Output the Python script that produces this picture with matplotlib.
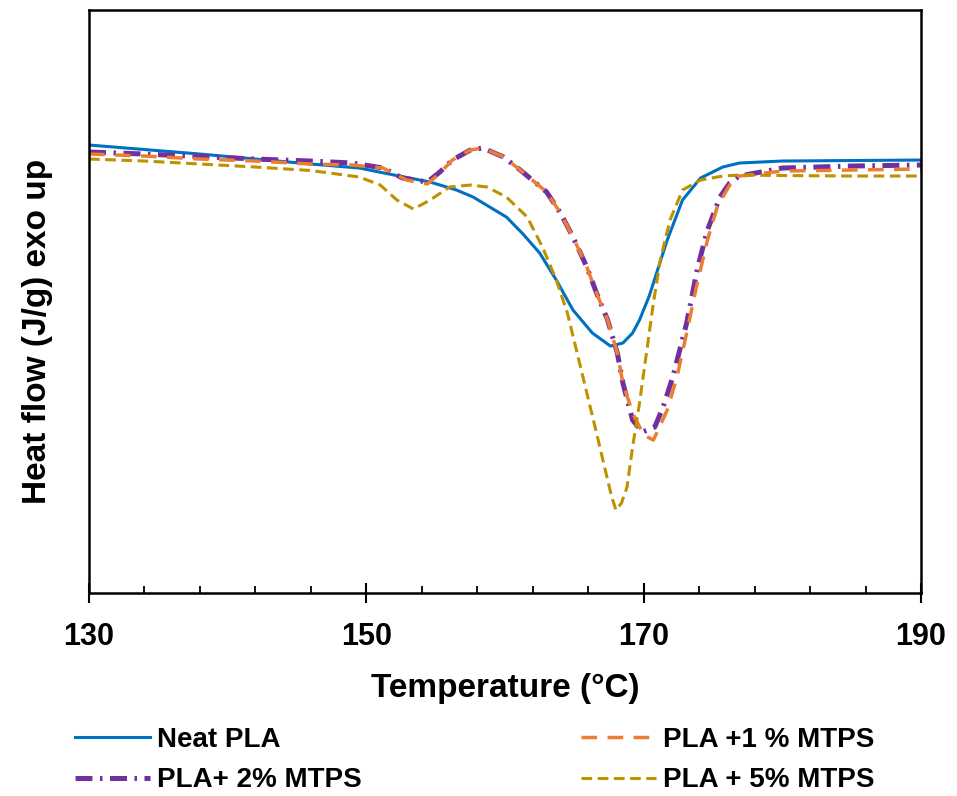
"""
DSC melting curves of PLA / MTPS blends.
"""

import matplotlib.pyplot as plt

plt.rcParams['font.family'] = ['Liberation Sans', 'DejaVu Sans']

# temperature (°C) and heat flow (arbitrary, exo up)
t_neat = [130, 134, 138, 142, 146, 149.5, 152, 154.6, 156.5, 157.7, 158.9, 160.1,
          161.3, 162.5, 163.7, 164.9, 166.3, 167.6, 168.5, 169.2, 169.7, 170.4,
          171.0, 171.7, 172.8, 174.1, 175.7, 176.9, 180, 185, 190]
hf_neat = [0.00, -0.045, -0.09, -0.14, -0.19, -0.23, -0.30, -0.37, -0.45, -0.52, -0.62,
           -0.72, -0.89, -1.08, -1.35, -1.65, -1.88, -2.01, -1.98, -1.88, -1.75, -1.51,
           -1.25, -0.95, -0.55, -0.33, -0.22, -0.18, -0.16, -0.155, -0.15]

t_1 = [130, 134, 138, 142, 146, 149.0, 151.2, 152.9, 154.4, 155.3, 156.2, 157.5,
       158.4, 159.9, 161.1, 163.0, 164.0, 164.9, 165.9, 166.6, 167.4, 168.1, 168.5,
       169.2, 170.0, 170.7, 171.7, 172.4, 173.1, 173.8, 174.6, 175.3, 176.2, 176.9,
       180, 185, 190]
hf_1 = [-0.09, -0.11, -0.14, -0.16, -0.19, -0.20, -0.23, -0.35, -0.39, -0.28, -0.15,
        -0.05, -0.03, -0.12, -0.25, -0.47, -0.68, -0.92, -1.22, -1.48, -1.75, -2.08,
        -2.38, -2.68, -2.90, -2.95, -2.65, -2.32, -1.88, -1.42, -0.95, -0.62, -0.40,
        -0.31, -0.26, -0.25, -0.24]

t_2 = [130, 134, 138, 142, 146, 149.0, 151.2, 152.6, 154.4, 155.3, 156.2, 157.5,
       158.4, 159.9, 161.1, 163.0, 164.0, 164.9, 165.9, 166.6, 167.4, 168.1, 168.5,
       169.2, 169.9, 170.8, 171.4, 172.1, 173.1, 173.9, 174.6, 175.5, 176.2, 176.9,
       180, 185, 190]
hf_2 = [-0.07, -0.09, -0.115, -0.14, -0.16, -0.18, -0.23, -0.33, -0.37, -0.27, -0.15,
        -0.05, -0.03, -0.12, -0.25, -0.47, -0.68, -0.92, -1.22, -1.48, -1.75, -2.08,
        -2.38, -2.75, -2.87, -2.82, -2.62, -2.32, -1.78, -1.22, -0.85, -0.52, -0.38,
        -0.31, -0.23, -0.21, -0.20]

t_5 = [130, 134, 138, 142, 146, 149.5, 151.0, 152.2, 153.4, 154.6, 156.0, 157.5,
       158.7, 160.1, 161.6, 162.7, 163.7, 164.5, 165.2, 165.9, 166.6, 167.4, 167.7,
       168.0, 168.4, 168.8, 169.2, 169.7, 170.2, 170.7, 171.2, 171.9, 172.8, 174.1,
       175.7, 176.9, 180, 185, 190]
hf_5 = [-0.14, -0.16, -0.19, -0.22, -0.255, -0.32, -0.40, -0.55, -0.64, -0.55, -0.42,
        -0.40, -0.42, -0.52, -0.72, -1.02, -1.35, -1.68, -2.08, -2.48, -2.88, -3.35,
        -3.52, -3.65, -3.58, -3.42, -3.02, -2.58, -2.08, -1.58, -1.15, -0.75, -0.45,
        -0.35, -0.31, -0.30, -0.305, -0.31, -0.31]

x_major = [130, 150, 170, 190]
x_minor = [134, 138, 142, 146, 154, 158, 162, 166, 174, 178, 182, 186]

fig = plt.figure(figsize=(9.57, 7.96), dpi=100)
ax = fig.add_axes([0.093, 0.255, 0.8694, 0.7324])

ax.plot(t_neat, hf_neat, color='#0070C0', lw=2.2, label='Neat PLA')
ax.plot(t_2, hf_2, color='#7030A0', lw=3.6, dashes=(3.4, 1.5, 0.5, 1.5),
        label='PLA+ 2% MTPS')
ax.plot(t_1, hf_1, color='#ED7D31', lw=2.5, dashes=(4.5, 3),
        label='PLA +1 % MTPS')
ax.plot(t_5, hf_5, color='#BF9000', lw=2.2, dashes=(3.5, 1.8),
        label='PLA + 5% MTPS')

ax.set_xlim(130, 190)
ax.set_ylim(-4.48, 1.35)
ax.set_xticks(x_major)
ax.set_xticks(x_minor, minor=True)
ax.tick_params(axis='x', which='major', direction='inout', length=14, width=1.5,
               labelsize=22, pad=14)
ax.tick_params(axis='x', which='minor', direction='in', length=5, width=1.3)
ax.set_yticks([])
for lab in ax.get_xticklabels():
    lab.set_fontweight('bold')
for sp in ax.spines.values():
    sp.set_linewidth(1.8)

ax.set_xlabel('Temperature (°C)', fontsize=24, fontweight='bold', labelpad=15)
ax.set_ylabel('Heat flow (J/g) exo up', fontsize=24, fontweight='bold')
ax.yaxis.set_label_coords(-0.043, 0.448)

fig.legend(loc='upper left', bbox_to_anchor=(75 / 957, 1 - 727 / 796), ncol=2,
           frameon=False, prop={'size': 20, 'weight': 'bold'}, handlelength=2.7,
           handletextpad=0.25, columnspacing=7.9, labelspacing=0.52,
           borderpad=0, borderaxespad=0)

fig.savefig('out.png', dpi=100)
